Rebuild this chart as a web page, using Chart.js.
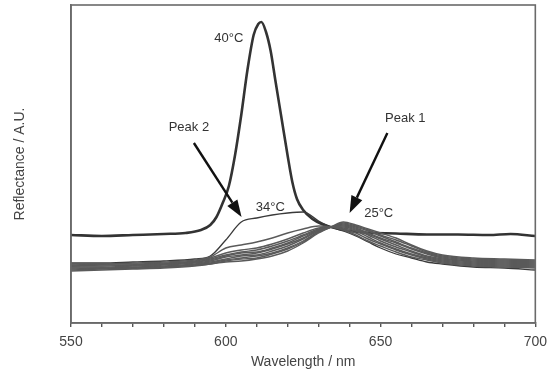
<!DOCTYPE html>
<html>
<head>
<meta charset="utf-8">
<script src="https://cdn.jsdelivr.net/npm/chart.js@4.4.1/dist/chart.umd.min.js"></script>
<style>
  html, body { margin: 0; padding: 0; background: #fff; }
  canvas { display: block; }
</style>
</head>
<body>
<canvas id="spectra" width="554" height="371"></canvas>
<script>
// wavelength grid (nm) shared by the 25-34 °C scans
const wavelengths = [550, 560, 570, 580, 590, 595, 600, 605, 610, 615, 620, 625, 630, 634, 638, 642, 646, 650, 655, 660, 665, 670, 680, 690, 700];

// reflectance (A.U.) per temperature
const r25 = [0.52, 0.53, 0.54, 0.55, 0.57, 0.59, 0.61, 0.62, 0.64, 0.67, 0.72, 0.80, 0.90, 0.96, 1.01, 0.98, 0.94, 0.90, 0.85, 0.78, 0.72, 0.68, 0.65, 0.64, 0.63];
const r26 = [0.53, 0.54, 0.55, 0.56, 0.58, 0.59, 0.62, 0.64, 0.65, 0.69, 0.74, 0.81, 0.91, 0.96, 1.00, 0.97, 0.93, 0.88, 0.83, 0.77, 0.71, 0.67, 0.64, 0.63, 0.62];
const r27 = [0.54, 0.55, 0.55, 0.56, 0.58, 0.60, 0.63, 0.65, 0.67, 0.70, 0.75, 0.82, 0.91, 0.96, 0.99, 0.96, 0.92, 0.87, 0.81, 0.75, 0.70, 0.66, 0.63, 0.62, 0.61];
const r28 = [0.55, 0.55, 0.56, 0.57, 0.59, 0.61, 0.64, 0.67, 0.68, 0.72, 0.77, 0.84, 0.92, 0.96, 0.98, 0.95, 0.90, 0.85, 0.80, 0.74, 0.69, 0.65, 0.62, 0.61, 0.60];
const r29 = [0.56, 0.56, 0.57, 0.58, 0.60, 0.62, 0.66, 0.68, 0.70, 0.74, 0.79, 0.85, 0.93, 0.96, 0.97, 0.94, 0.89, 0.84, 0.78, 0.72, 0.67, 0.64, 0.61, 0.60, 0.59];
const r30 = [0.57, 0.57, 0.58, 0.59, 0.61, 0.63, 0.67, 0.70, 0.71, 0.75, 0.80, 0.87, 0.93, 0.96, 0.96, 0.93, 0.88, 0.82, 0.76, 0.71, 0.66, 0.63, 0.60, 0.59, 0.58];
const r31 = [0.57, 0.58, 0.58, 0.59, 0.61, 0.64, 0.68, 0.71, 0.73, 0.77, 0.82, 0.88, 0.94, 0.96, 0.95, 0.92, 0.86, 0.80, 0.74, 0.69, 0.65, 0.62, 0.59, 0.58, 0.57];
const r32 = [0.58, 0.59, 0.59, 0.60, 0.62, 0.65, 0.70, 0.73, 0.75, 0.79, 0.84, 0.90, 0.95, 0.96, 0.94, 0.90, 0.84, 0.79, 0.73, 0.68, 0.64, 0.61, 0.58, 0.57, 0.56];
const r33 = [0.59, 0.59, 0.60, 0.61, 0.63, 0.66, 0.75, 0.78, 0.81, 0.85, 0.90, 0.94, 0.97, 0.96, 0.93, 0.88, 0.82, 0.77, 0.71, 0.66, 0.63, 0.60, 0.57, 0.56, 0.55];
const r34 = [0.60, 0.60, 0.61, 0.62, 0.64, 0.67, 0.83, 1.01, 1.05, 1.08, 1.10, 1.11, 1.02, 0.96, 0.92, 0.87, 0.81, 0.75, 0.69, 0.65, 0.61, 0.59, 0.56, 0.55, 0.53];

// 40 °C scan, sampled closer around the sharp peak
const wavelengths40 = [550, 560, 570, 580, 587, 592, 595, 597, 599, 601, 603, 605, 607, 609, 610.5, 611.5, 613, 614.5, 616, 618, 620, 621.5, 623, 625, 628, 631, 634, 638, 645, 655, 665, 675, 685, 692, 700];
const r40 = [0.88, 0.87, 0.88, 0.89, 0.90, 0.93, 0.98, 1.06, 1.20, 1.37, 1.68, 2.08, 2.53, 2.88, 2.99, 3.01, 2.91, 2.72, 2.43, 2.05, 1.67, 1.41, 1.24, 1.13, 1.04, 0.99, 0.96, 0.93, 0.905, 0.895, 0.885, 0.885, 0.88, 0.89, 0.87];

const xTickLabels = [550, 600, 650, 700];

// text notes in data coordinates (nm, A.U.)
const tempNotes = [
  { text: '40°C', x: 601, y: 2.85 },
  { text: '34°C', x: 614.4, y: 1.16 },
  { text: '25°C', x: 649.4, y: 1.10 }
];
const peakNotes = [
  { text: 'Peak 2', x: 588.1, y: 1.96, from: [589.7, 1.80], to: [605.1, 1.06] },
  { text: 'Peak 1', x: 658.0, y: 2.05, from: [652.2, 1.90], to: [640.0, 1.10] }
];

const FONT = "'Liberation Sans', Arial, sans-serif";

function pairs(xs, ys) {
  return xs.map((x, i) => ({ x: x, y: ys[i] }));
}

const lowScans = [
  ['25°C', r25], ['26°C', r26], ['27°C', r27], ['28°C', r28], ['29°C', r29],
  ['30°C', r30], ['31°C', r31], ['32°C', r32], ['33°C', r33]
];

const datasets = lowScans.map(([label, vals]) => ({
  label: label,
  data: pairs(wavelengths, vals),
  borderColor: '#5a5a5a',
  borderWidth: 1.4
}));
datasets.push({ label: '34°C', data: pairs(wavelengths, r34), borderColor: '#3a3a3a', borderWidth: 1.3 });
datasets.push({ label: '40°C', data: pairs(wavelengths40, r40), borderColor: '#333', borderWidth: 2.6 });

// frame around the plot + annotations with arrows
const decorations = {
  id: 'decorations',
  afterDatasetsDraw(chart) {
    const { ctx, chartArea: a, scales: { x, y } } = chart;
    ctx.save();
    ctx.strokeStyle = '#6a6a6a';
    ctx.lineWidth = 1.6;
    ctx.strokeRect(a.left, a.top, a.right - a.left, a.bottom - a.top);

    ctx.font = '13px ' + FONT;
    ctx.fillStyle = '#333';
    ctx.textAlign = 'center';
    ctx.textBaseline = 'middle';
    tempNotes.forEach(n => ctx.fillText(n.text, x.getPixelForValue(n.x), y.getPixelForValue(n.y)));

    peakNotes.forEach(n => {
      ctx.fillStyle = '#333';
      ctx.fillText(n.text, x.getPixelForValue(n.x), y.getPixelForValue(n.y));
      const x0 = x.getPixelForValue(n.from[0]), y0 = y.getPixelForValue(n.from[1]);
      const x1 = x.getPixelForValue(n.to[0]), y1 = y.getPixelForValue(n.to[1]);
      const ang = Math.atan2(y1 - y0, x1 - x0);
      const headLen = 17, headW = 6;
      const bx = x1 - headLen * Math.cos(ang), by = y1 - headLen * Math.sin(ang);
      ctx.strokeStyle = '#111';
      ctx.lineWidth = 2.4;
      ctx.beginPath();
      ctx.moveTo(x0, y0);
      ctx.lineTo(bx, by);
      ctx.stroke();
      ctx.fillStyle = '#111';
      ctx.beginPath();
      ctx.moveTo(x1, y1);
      ctx.lineTo(bx + headW * Math.sin(ang), by - headW * Math.cos(ang));
      ctx.lineTo(bx - headW * Math.sin(ang), by + headW * Math.cos(ang));
      ctx.closePath();
      ctx.fill();
    });
    ctx.restore();
  }
};

new Chart(document.getElementById('spectra'), {
  type: 'line',
  data: { datasets: datasets },
  options: {
    responsive: false,
    animation: false,
    layout: { padding: { top: 5, right: 15, left: 0, bottom: 0 } },
    elements: {
      point: { radius: 0 },
      line: { tension: 0.4, cubicInterpolationMode: 'monotone', fill: false }
    },
    plugins: { legend: { display: false }, tooltip: { enabled: false } },
    scales: {
      x: {
        type: 'linear',
        min: 550,
        max: 700,
        ticks: {
          stepSize: 10,
          autoSkip: false,
          maxRotation: 0,
          padding: 7,
          color: '#444',
          font: { family: FONT, size: 14 },
          callback: v => xTickLabels.includes(v) ? String(v) : ''
        },
        grid: { drawOnChartArea: false, tickLength: 4, color: '#555', lineWidth: 1.4 },
        border: { color: '#6a6a6a', width: 1.6 },
        title: {
          display: true,
          text: 'Wavelength / nm',
          color: '#444',
          font: { family: FONT, size: 14 },
          padding: { top: 0, bottom: 0 }
        },
        afterFit: s => { s.height = 48; }
      },
      y: {
        min: 0,
        max: 3.18,
        ticks: { display: false },
        grid: { display: false },
        border: { color: '#6a6a6a', width: 1.6 },
        title: {
          display: true,
          text: 'Reflectance / A.U.',
          color: '#444',
          font: { family: FONT, size: 14 },
          padding: { top: 12, bottom: 0 }
        },
        afterFit: s => { s.width = 71; }
      }
    }
  },
  plugins: [decorations]
});
</script>
</body>
</html>
